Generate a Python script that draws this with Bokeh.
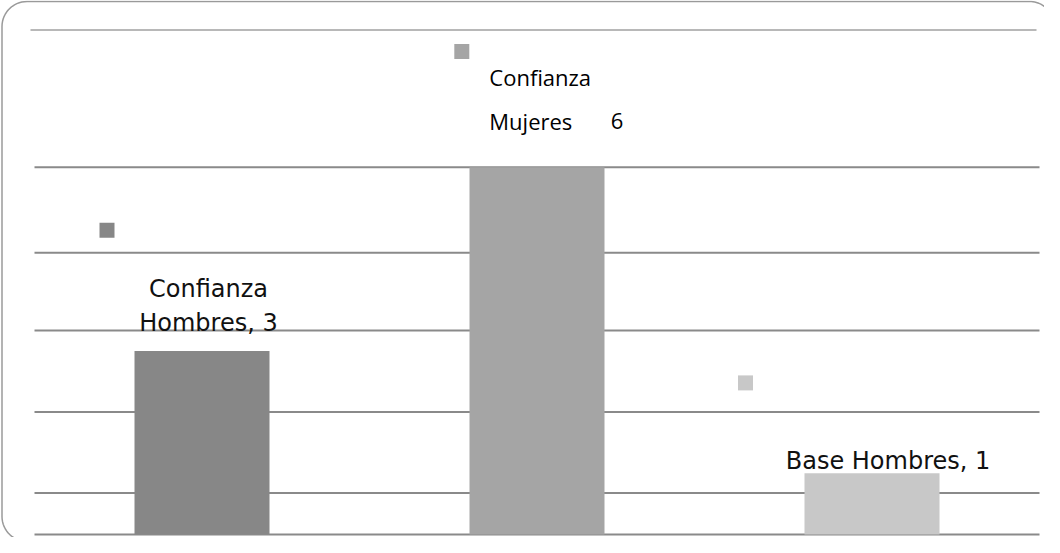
import numpy as np
from bokeh.plotting import figure
from bokeh.models import Range1d, ColumnDataSource
from bokeh.core.properties import value
from bokeh.embed import file_html
from bokeh.resources import INLINE

# ---------------- data ----------------
categories = ["Confianza Hombres", "Confianza Mujeres", "Base Hombres"]
values = [3, 6, 1]
label_lines = [
    ["Confianza", f"Hombres, {values[0]}"],
    ["Confianza", "Mujeres"],
    [f"Base Hombres, {values[2]}"],
]
value_texts = ["", str(values[1]), ""]

# ---------------- style / layout ----------------
W, H = 1044, 537
bar_colors = ["#878787", "#a5a5a5", "#c8c8c8"]
PX_PER_CAT = 335.0      # px per category slot
CAT0_PX = 201.5         # figure x (px) of first category centre
BASE_PY = 534.0         # figure y (px from top) of value 0
TOP_PY = 166.8          # figure y of the largest value
PPU = (BASE_PY - TOP_PY) / max(values)   # px per unit


def X(px):
    return (px - CAT0_PX) / PX_PER_CAT


def Y(py):
    return (BASE_PY - py) / PPU


def DX(px):
    return px / PX_PER_CAT


def DY(px):
    return px / PPU


p = figure(width=W, height=H, x_range=Range1d(X(0), X(W)), y_range=Range1d(Y(H), Y(0)),
           output_backend="svg", toolbar_location=None,
           x_axis_location=None, y_axis_location=None,
           min_border=0, min_border_left=0, min_border_right=0,
           min_border_top=0, min_border_bottom=0)
p.grid.visible = False
p.outline_line_color = None
p.background_fill_color = "white"
p.border_fill_color = "white"


# rounded outer border (decoration): open path, left/top sides only
def border_path(L, T, R, B, r, n=16):
    xs, ys = [], []
    arcs = [((L + r, B - r), 90, 180), ((L + r, T + r), 180, 270),
            ((R - r, T + r), 270, 330)]
    for (cx, cy), a0, a1 in arcs:
        for a in np.linspace(np.radians(a0), np.radians(a1), n):
            xs.append(cx + r * np.cos(a))
            ys.append(cy + r * np.sin(a))
    return [X(v) for v in xs], [Y(v) for v in ys]


bx, by = border_path(1.5, 1.0, 1054, 541, 25)
p.line(bx, by, line_color="#9a9a9a", line_width=1.5)

# gridlines (positions in px, as in the reference)
grid_py = [166.8, 252.3, 330.1, 411.4, 492.5, BASE_PY]
p.segment(x0=[X(34)] * len(grid_py), x1=[X(1039)] * len(grid_py),
          y0=[Y(v) for v in grid_py], y1=[Y(v) for v in grid_py],
          line_color="#8a8a8a", line_width=2)
p.segment(x0=[X(30)], x1=[X(1036)], y0=[Y(29.5)], y1=[Y(29.5)],
          line_color="#a0a0a0", line_width=1.5)

# bars
idx = list(range(len(categories)))
src = ColumnDataSource(dict(x=idx, top=values, color=bar_colors, name=categories))
p.vbar(x="x", top="top", bottom=0, width=0.403, source=src,
       fill_color="color", line_color=None)

# small legend-key squares attached to each data label
sq_dx = [-95.0, -75.2, -126.5]
sq_dy = [120.7, 115.8, 90.4]
p.scatter(x=[i + DX(d) for i, d in zip(idx, sq_dx)],
          y=[v + DY(d) for v, d in zip(values, sq_dy)],
          marker="square", size=15, fill_color=bar_colors, line_color=None)

# data labels
p.text(x=[idx[0] + DX(6.5)] * 2,
       y=[values[0] + DY(62.0), values[0] + DY(28.0)],
       text=label_lines[0], text_align="center", text_baseline="alphabetic",
       text_font=value("DejaVu Sans"), text_font_size="24px", text_color="#111111")
p.text(x=[idx[2] + DX(16.0)], y=[values[2] + DY(12.7)],
       text=label_lines[2], text_align="center", text_baseline="alphabetic",
       text_font=value("DejaVu Sans"), text_font_size="24px", text_color="#111111")
p.text(x=[idx[1] + DX(-47.7)] * 2,
       y=[values[1] + DY(90.7), values[1] + DY(46.6)],
       text=label_lines[1], text_align="left", text_baseline="alphabetic",
       text_font=value("Open Sans"), text_font_size="22px", text_color="#000000")
p.text(x=[idx[1] + DX(73.8)], y=[values[1] + DY(46.6)],
       text=[value_texts[1]], text_align="left", text_baseline="alphabetic",
       text_font=value("Open Sans"), text_font_size="22px", text_color="#000000")

open("out.html", "w").write(file_html(p, INLINE))
